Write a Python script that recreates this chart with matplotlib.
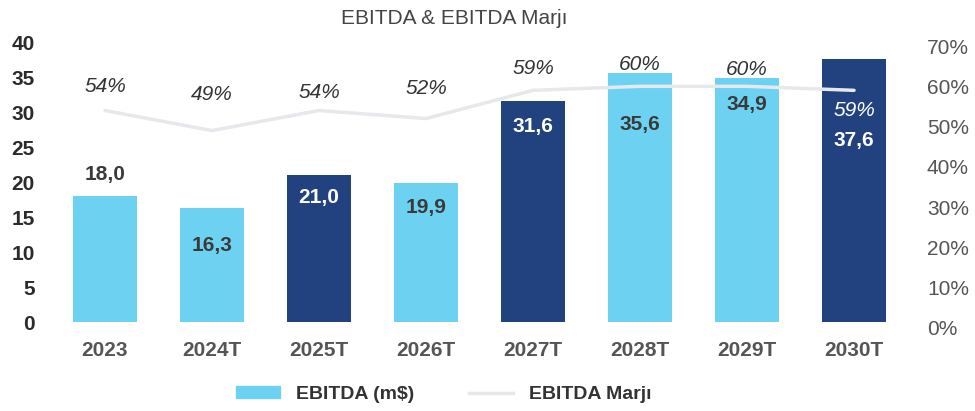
import numpy as np
import matplotlib.pyplot as plt
from matplotlib.patches import Patch
from matplotlib.lines import Line2D

plt.rcParams['font.family'] = ['Liberation Sans', 'DejaVu Sans']

# DATA
years = ['2023', '2024T', '2025T', '2026T', '2027T', '2028T', '2029T', '2030T']
ebitda = [18.0, 16.3, 21.0, 19.9, 31.6, 35.6, 34.9, 37.6]
margin = [54, 49, 54, 52, 59, 60, 60, 59]
dark_bar = [False, False, True, False, True, False, False, True]

# styling
light = '#6dd2f2'
navy = '#21427f'
line_col = '#e6e8ec'
# label offsets (px) chosen to mirror the source layout
val_dy = [22, -38, -22, -25, -26, -52, -27, -82]
pct_dy = [24, 36, 18, 30, 22, 22, 17, -20]

fig = plt.figure(figsize=(9.75, 4.11), dpi=100)
ax = fig.add_axes([0.0528, 0.2165, 0.878, 0.681])
ax2 = fig.add_axes([0.0528, 0.2020, 0.878, 0.686], sharex=ax)
ax2.patch.set_alpha(0)

x = np.arange(len(years))
cols = [navy if d else light for d in dark_bar]
ax.bar(x, ebitda, width=0.59, color=cols, zorder=2)

ax.set_xlim(-0.5, len(years) - 0.5)
ax.set_ylim(0, 40)
ax.set_yticks(range(0, 41, 5))
ax.set_xticks(x)
ax.set_xticklabels(years)
ax.tick_params(axis='y', length=0, pad=12, labelsize=15, labelcolor='#2b2b2b')
ax.tick_params(axis='x', length=0, pad=14, labelsize=15, labelcolor='#555555')
for t in ax.get_yticklabels() + ax.get_xticklabels():
    t.set_fontweight('bold')
for s in ax.spines.values():
    s.set_visible(False)

# value labels
for i, v in enumerate(ebitda):
    c = 'white' if dark_bar[i] else '#3a3a3a'
    ax.annotate(f'{v:.1f}'.replace('.', ','), (x[i], v), xytext=(0, val_dy[i] * 0.72),
                textcoords='offset points', ha='center', va='center',
                fontsize=15, fontweight='bold', color=c, zorder=5)

# margin line on right axis
ax2.plot(x, margin, color=line_col, lw=2.5, zorder=3, solid_capstyle='round')
ax2.set_ylim(0, 70)
ax2.set_yticks(range(0, 71, 10))
ax2.yaxis.tick_right()
ax2.yaxis.set_major_formatter(plt.FuncFormatter(lambda v, p: f'{int(v)}%'))
ax2.tick_params(axis='y', length=0, pad=14, labelsize=15, labelcolor='#555555')
ax2.tick_params(axis='x', bottom=False, labelbottom=False)
for s in ax2.spines.values():
    s.set_visible(False)

for i, m in enumerate(margin):
    c = 'white' if pct_dy[i] < 0 else '#333333'
    ax2.annotate(f'{m}%', (x[i], m), xytext=(0, pct_dy[i] * 0.72),
                 textcoords='offset points', ha='center', va='center',
                 fontsize=15, fontstyle='italic', color=c, zorder=5)

fig.text(0.466, 0.956, 'EBITDA & EBITDA Marjı', ha='center', va='center',
         fontsize=15, color='#444444')

handles = [Patch(color=light), Line2D([0], [0], color=line_col, lw=2.5)]
fig.legend(handles, ['EBITDA (m$)', 'EBITDA Marjı'], loc='center',
           bbox_to_anchor=(0.455, 0.04), ncol=2, frameon=False,
           handlelength=2.3, handleheight=0.6, columnspacing=2.8,
           prop={'size': 14, 'weight': 'bold'}, labelcolor='#333333')

fig.savefig('out.png', dpi=100)
